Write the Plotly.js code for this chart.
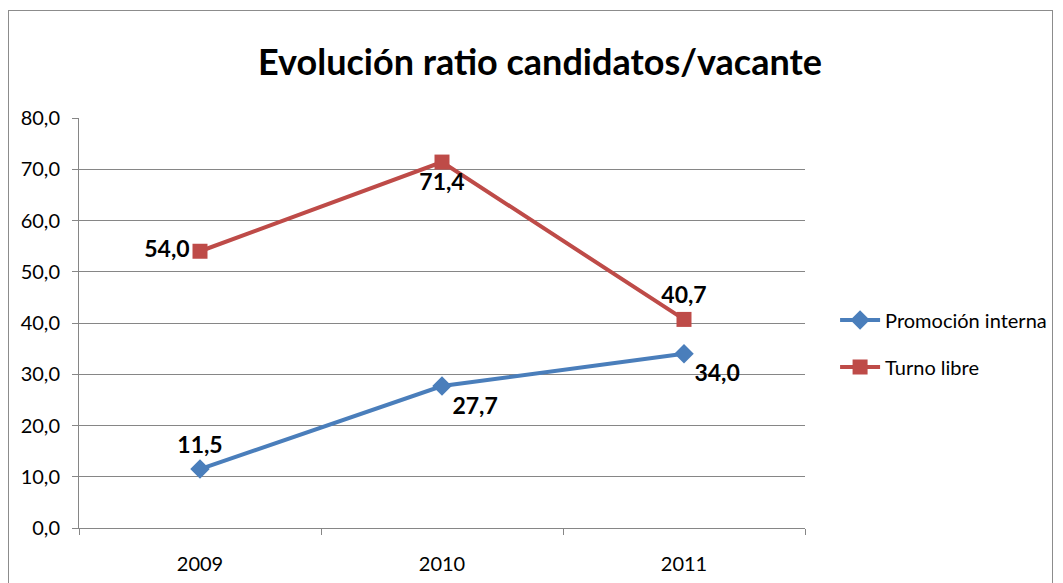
<!DOCTYPE html>
<html>
<head>
<meta charset="utf-8">
<script src="https://cdn.plot.ly/plotly-3.0.1.min.js"></script>
<style>
  body { margin: 0; background: #fff; }
  #marco { position: absolute; left: 8px; top: 10px; width: 1043px; height: 580px; border: 1px solid #8c8c8c; }
  #contenedorGrafica { position: absolute; left: 0; top: 0; width: 1063px; height: 583px; }
</style>
</head>
<body>
<div id="marco"></div>
<div id="contenedorGrafica"></div>
<script>
const ANIOS = ['2009', '2010', '2011'];
const PROMOCION_INTERNA = [11.5, 27.7, 34.0];
const TURNO_LIBRE = [54.0, 71.4, 40.7];
const TICKS_Y = [0, 10, 20, 30, 40, 50, 60, 70, 80];

const GRIS = '#868686';
const FUENTE = 'Lato, "Open Sans", sans-serif';

let datos = [{
    name: 'Promoción interna',
    x: ANIOS,
    y: PROMOCION_INTERNA,
    mode: 'lines+markers+text',
    line: {color: '#4a7ebb', width: 4},
    marker: {symbol: 'diamond', size: 15, color: '#4a7ebb'},
    text: PROMOCION_INTERNA.map(v => v.toFixed(1).replace('.', ',')),
    textposition: ['top center', 'bottom right', 'bottom right'],
    textfont: {family: FUENTE, size: 23, color: '#000', weight: 'bold'},
    legendgroup: 'a'
}, {
    name: 'Turno libre',
    x: ANIOS,
    y: TURNO_LIBRE,
    mode: 'lines+markers+text',
    line: {color: '#be4b48', width: 4},
    marker: {symbol: 'square', size: 15, color: '#be4b48'},
    text: TURNO_LIBRE.map(v => v.toFixed(1).replace('.', ',')),
    textposition: ['middle left', 'bottom center', 'top center'],
    textfont: {family: FUENTE, size: 23, color: '#000', weight: 'bold'},
    legendgroup: 'b'
}];

let diseno = {
    width: 1063,
    height: 583,
    margin: {l: 79, r: 257, t: 118, b: 55},
    paper_bgcolor: 'rgba(0,0,0,0)',
    plot_bgcolor: 'rgba(0,0,0,0)',
    separators: ',.',
    font: {family: FUENTE, size: 20, color: '#000'},
    title: {
        text: '<b>Evolución ratio candidatos/vacante</b>',
        font: {family: FUENTE, size: 36, color: '#000'},
        x: 0.508, xanchor: 'center', y: 0.893, yanchor: 'middle'
    },
    xaxis: {
        type: 'category',
        range: [-0.5, 2.5],
        showgrid: false,
        showline: true,
        linecolor: GRIS,
        linewidth: 1,
        ticks: 'outside',
        tickson: 'boundaries',
        ticklen: 6,
        tickcolor: GRIS,
        tickfont: {family: FUENTE, size: 20},
        ticklabelstandoff: 18,
        zeroline: false,
        fixedrange: true
    },
    yaxis: {
        range: [0, 80],
        tickvals: TICKS_Y,
        tickformat: '.1f',
        showgrid: true,
        gridcolor: GRIS,
        gridwidth: 1,
        showline: true,
        linecolor: GRIS,
        ticks: 'outside',
        ticklen: 6,
        tickcolor: GRIS,
        tickfont: {family: FUENTE, size: 20},
        ticklabelstandoff: 8,
        zeroline: false,
        fixedrange: true
    },
    showlegend: true,
    legend: {
        x: 1.04, y: 0.555, xanchor: 'left', yanchor: 'top',
        font: {family: FUENTE, size: 20},
        traceorder: 'grouped',
        tracegroupgap: 18,
        itemwidth: 40
    }
};

Plotly.newPlot(document.getElementById('contenedorGrafica'), datos, diseno, {displayModeBar: false});
</script>
</body>
</html>
